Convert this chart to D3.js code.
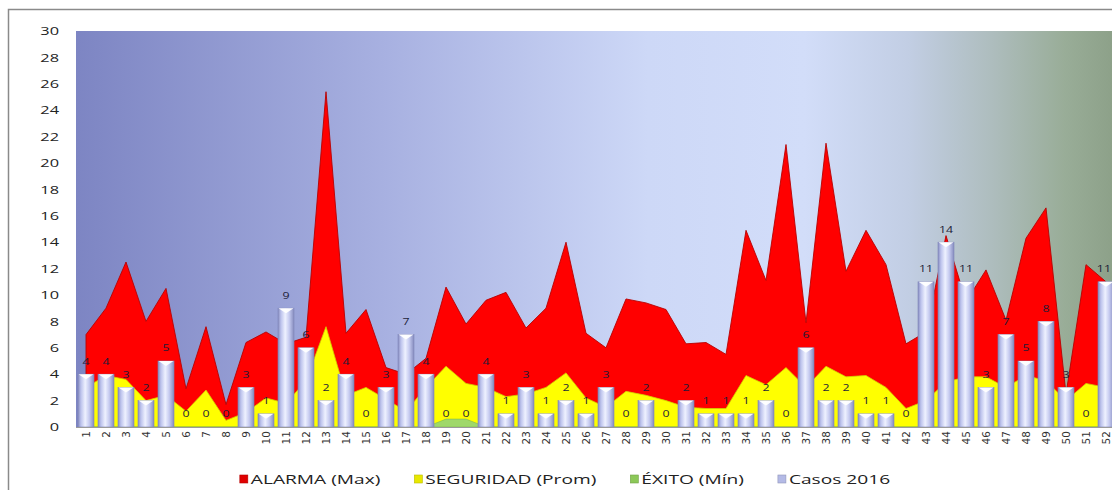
<!DOCTYPE html>
<html>
<head>
<meta charset="utf-8">
<script src="https://cdn.jsdelivr.net/npm/d3@7"></script>
<style>
  html, body { margin: 0; padding: 0; background: #ffffff; }
  svg { display: block; }
</style>
</head>
<body>
<svg id="chart" width="1112" height="500"></svg>
<script>
// ---------------- DATA ----------------
const categories = ["1","2","3","4","5","6","7","8","9","10","11","12","13","14","15","16","17","18","19","20","21","22","23","24","25","26","27","28","29","30","31","32","33","34","35","36","37","38","39","40","41","42","43","44","45","46","47","48","49","50","51","52"];
const alarmaMax = [7.0,9.0,12.5,8.0,10.5,2.9,7.6,1.7,6.4,7.2,6.3,6.8,25.4,7.1,8.9,4.5,4.0,5.2,10.6,7.8,9.6,10.2,7.5,9.0,14.0,7.1,6.0,9.7,9.4,8.9,6.3,6.4,5.5,14.9,11.1,21.4,7.9,21.5,11.8,14.9,12.3,6.3,7.2,14.5,9.5,11.9,8.1,14.3,16.6,2.5,12.3,11.0];
const seguridadProm = [3.0,3.9,3.6,2.0,2.4,1.2,2.8,0.5,1.1,2.2,1.8,3.5,7.6,2.4,3.0,2.1,1.2,3.0,4.6,3.3,3.0,2.3,2.5,3.0,4.1,2.2,1.5,2.7,2.4,2.0,1.5,1.4,1.4,3.9,3.2,4.5,3.0,4.6,3.8,3.9,3.0,1.4,2.0,3.4,3.8,3.8,3.0,3.9,3.5,2.0,3.3,3.0];
const exitoMin = [0,0,0,0,0,0,0,0,0,0,0,0,0,0,0,0,0,0,0.6,0.6,0,0,0,0,0,0,0,0,0,0,0,0,0,0,0,0,0,0,0,0,0,0,0,0,0,0,0,0,0,0,0,0];
const casos2016 = [4,4,3,2,5,0,0,0,3,1,9,6,2,4,0,3,7,4,0,0,4,1,3,1,2,1,3,0,2,0,2,1,1,1,2,0,6,2,2,1,1,0,11,14,11,3,7,5,8,3,0,11];
const yTicks = [0,2,4,6,8,10,12,14,16,18,20,22,24,26,28,30];
const seriesNames = ["ALARMA (Max)", "SEGURIDAD (Prom)", "ÉXITO (Mín)", "Casos 2016"];

// ---------------- LAYOUT ----------------
const svg = d3.select("#chart");
const plot = { left: 76, right: 1116, top: 31, bottom: 427 };
const SX = 1.42; // horizontal stretch of text (reference image is stretched)
const SXL = 1.3; // stretch for bar value labels

const x = d3.scaleBand().domain(categories).range([plot.left, plot.right]).padding(0);
const cx = d => x(d) + x.bandwidth() / 2;
const y = d3.scaleLinear().domain([0, 30]).range([plot.bottom, plot.top]);

const defs = svg.append("defs");

// plot background gradient
const bg = defs.append("linearGradient").attr("id", "bgGrad")
  .attr("gradientUnits", "userSpaceOnUse")
  .attr("x1", plot.left).attr("x2", plot.right).attr("y1", 0).attr("y2", 0);
[[0, "#7d85c3"], [0.3, "#a8b1e1"], [0.55, "#cdd8f7"], [0.7, "#d2ddf9"],
 [0.8, "#c2cee4"], [0.88, "#aebdbe"], [0.95, "#99ad98"], [1, "#8ca088"]]
  .forEach(([o, c]) => bg.append("stop").attr("offset", o).attr("stop-color", c));

// bar gradient (cylinder look)
const bar = defs.append("linearGradient").attr("id", "barGrad")
  .attr("x1", 0).attr("x2", 1).attr("y1", 0).attr("y2", 0);
[[0, "#868cc0"], [0.18, "#bcc2ec"], [0.45, "#eef1ff"], [0.7, "#c6cbf0"], [1, "#858bbe"]]
  .forEach(([o, c]) => bar.append("stop").attr("offset", o).attr("stop-color", c));

// outer frame
svg.append("path")
  .attr("d", "M8.5,490 L8.5,9.5 L1112,9.5")
  .attr("fill", "none").attr("stroke", "#8a8a8a").attr("stroke-width", 1.5);

// plot background
svg.append("rect")
  .attr("x", plot.left).attr("y", plot.top)
  .attr("width", plot.right - plot.left).attr("height", plot.bottom - plot.top)
  .attr("fill", "url(#bgGrad)");

// areas
const area = d3.area()
  .x((d, i) => cx(categories[i]))
  .y0(y(0))
  .y1(d => y(d));

svg.append("path").datum(alarmaMax).attr("d", area)
  .attr("fill", "#ff0000").attr("stroke", "#b80000").attr("stroke-width", 0.9)
  .attr("stroke-linejoin", "round");
svg.append("path").datum(seguridadProm).attr("d", area)
  .attr("fill", "#ffff00").attr("stroke", "#d0d000").attr("stroke-width", 0.8)
  .attr("stroke-linejoin", "round");
svg.append("path").datum(exitoMin).attr("d", area)
  .attr("fill", "#9fd86a").attr("stroke", "#7fb850").attr("stroke-width", 0.6)
  .attr("stroke-linejoin", "round");

// bars
const barW = 16;
const bars = svg.append("g");
categories.forEach((c, i) => {
  const v = casos2016[i];
  if (v <= 0) return;
  const x0 = cx(c) - barW / 2;
  const yt = y(v);
  bars.append("rect")
    .attr("x", x0).attr("y", yt)
    .attr("width", barW).attr("height", y(0) - yt)
    .attr("fill", "url(#barGrad)")
    .attr("stroke", "#7f86ba").attr("stroke-width", 0.6);
  bars.append("path")
    .attr("d", `M${x0 + 0.5},${yt} L${x0 + barW - 0.5},${yt} L${cx(c)},${yt + 5} Z`)
    .attr("fill", "#ffffff").attr("opacity", 0.95);
});

// bottom axis line
svg.append("line")
  .attr("x1", plot.left).attr("x2", plot.right)
  .attr("y1", plot.bottom + 0.5).attr("y2", plot.bottom + 0.5)
  .attr("stroke", "#9a9a9a").attr("stroke-width", 1);

// bar value labels
const labels = svg.append("g");
categories.forEach((c, i) => {
  const g = labels.append("g");
  const t = g.append("text")
    .attr("text-anchor", "middle").attr("dy", "0.35em")
    .attr("font-family", "'Open Sans', sans-serif").attr("font-size", 9.5)
    .attr("fill", "#1c1c38")
    .text(casos2016[i]);
  const half = t.node().getComputedTextLength() * SXL / 2;
  const px = Math.min(cx(c), 1111 - half);
  g.attr("transform", `translate(${px},${y(casos2016[i]) - 13}) scale(${SXL},1)`);
});

// y axis labels
const yAxis = svg.append("g");
yTicks.forEach(t => {
  yAxis.append("g")
    .attr("transform", `translate(59,${y(t)}) scale(${SX},1)`)
    .append("text")
    .attr("text-anchor", "end").attr("dy", "0.36em")
    .attr("font-family", "'Open Sans', sans-serif").attr("font-size", 11.5)
    .attr("fill", "#222")
    .text(t);
});

// x axis labels (rotated)
const xAxis = svg.append("g");
categories.forEach(c => {
  xAxis.append("text")
    .attr("transform", `translate(${cx(c)},${plot.bottom + 4}) rotate(-90)`)
    .attr("text-anchor", "end").attr("dy", "0.35em")
    .attr("font-family", "'DejaVu Sans', sans-serif").attr("font-size", 10.5)
    .attr("fill", "#333")
    .text(c);
});

// legend
const legendColors = ["#e00000", "#e8e800", "#8cc858", "#b4bae6"];
const legendY = 479;
const leg = svg.append("g");
const items = seriesNames.map((name, i) => {
  const g = leg.append("g");
  g.append("rect").attr("x", 0).attr("y", -4).attr("width", 8).attr("height", 8)
    .attr("fill", legendColors[i]).attr("stroke", d3.color(legendColors[i]).darker(0.6)).attr("stroke-width", 0.6);
  const tg = g.append("g").attr("transform", `translate(11,0) scale(${SX},1)`);
  const t = tg.append("text").attr("dy", "0.35em")
    .attr("font-family", "'Open Sans', sans-serif").attr("font-size", 13.5)
    .attr("fill", "#222").text(name);
  const w = 11 + t.node().getComputedTextLength() * SX;
  return { g, w };
});
const gap = 34;
const total = d3.sum(items, d => d.w) + gap * (items.length - 1);
let lx = 565 - total / 2;
items.forEach(it => {
  it.g.attr("transform", `translate(${lx},${legendY})`);
  lx += it.w + gap;
});
</script>
</body>
</html>
